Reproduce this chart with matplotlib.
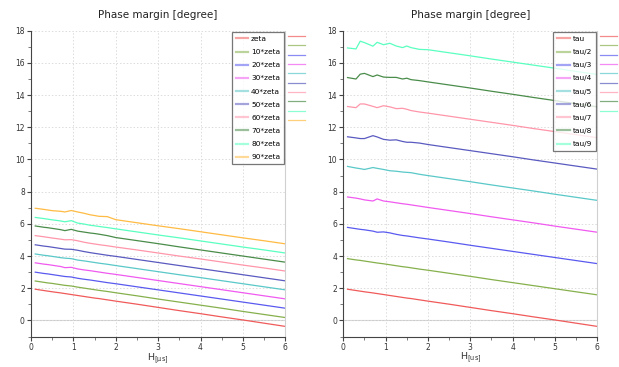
import numpy as np
import matplotlib.pyplot as plt
from matplotlib.ticker import MultipleLocator

# H in microseconds
H = [0.1, 0.3, 0.4, 0.5, 0.7, 0.8, 0.95, 1.1, 1.25, 1.4, 1.5, 1.6, 1.8, 2.0,
     2.5, 3.0, 3.5, 4.0, 4.5, 5.0, 5.5, 6.0]

# phase margin vs H, zeta sweep
zeta_labels = ['zeta', '10*zeta', '20*zeta', '30*zeta', '40*zeta', '50*zeta',
               '60*zeta', '70*zeta', '80*zeta', '90*zeta']
zeta_1 = [1.94, 1.86, 1.82, 1.78, 1.71, 1.67, 1.61, 1.55, 1.49, 1.43, 1.39, 1.36, 1.28, 1.20,
          1.01, 0.81, 0.61, 0.42, 0.22, 0.03, -0.17, -0.37]
zeta_10 = [2.45, 2.37, 2.33, 2.30, 2.22, 2.18, 2.14, 2.07, 2.01, 1.95, 1.91, 1.87, 1.80, 1.72,
           1.53, 1.33, 1.14, 0.95, 0.76, 0.56, 0.37, 0.18]
zeta_20 = [3.00, 2.92, 2.89, 2.85, 2.77, 2.73, 2.70, 2.62, 2.56, 2.51, 2.47, 2.43, 2.35, 2.28,
           2.09, 1.90, 1.71, 1.52, 1.33, 1.14, 0.95, 0.76]
zeta_30 = [3.58, 3.50, 3.47, 3.43, 3.35, 3.28, 3.30, 3.20, 3.14, 3.09, 3.05, 3.01, 2.93, 2.86,
           2.67, 2.48, 2.29, 2.10, 1.91, 1.72, 1.53, 1.34]
zeta_40 = [4.13, 4.05, 4.02, 3.98, 3.90, 3.87, 3.84, 3.75, 3.70, 3.64, 3.60, 3.56, 3.49, 3.41,
           3.22, 3.03, 2.84, 2.66, 2.47, 2.28, 2.09, 1.90]
zeta_50 = [4.70, 4.62, 4.59, 4.55, 4.47, 4.43, 4.42, 4.36, 4.28, 4.21, 4.17, 4.13, 4.05, 3.98,
           3.79, 3.60, 3.41, 3.22, 3.03, 2.84, 2.65, 2.46]
zeta_60 = [5.27, 5.20, 5.16, 5.12, 5.05, 5.01, 5.02, 4.95, 4.86, 4.79, 4.75, 4.71, 4.64, 4.56,
           4.38, 4.19, 4.00, 3.82, 3.63, 3.44, 3.26, 3.07]
zeta_70 = [5.87, 5.79, 5.76, 5.72, 5.64, 5.58, 5.66, 5.55, 5.49, 5.43, 5.40, 5.36, 5.27, 5.15,
           4.96, 4.77, 4.57, 4.38, 4.19, 4.00, 3.81, 3.62]
zeta_80 = [6.40, 6.33, 6.29, 6.25, 6.18, 6.13, 6.20, 6.05, 5.99, 5.91, 5.88, 5.84, 5.77, 5.69,
           5.50, 5.31, 5.13, 4.94, 4.75, 4.56, 4.38, 4.19]
zeta_90 = [6.97, 6.90, 6.86, 6.82, 6.78, 6.74, 6.83, 6.74, 6.66, 6.56, 6.52, 6.47, 6.45, 6.26,
           6.07, 5.88, 5.70, 5.51, 5.32, 5.13, 4.95, 4.76]

# phase margin vs H, tau sweep
tau_labels = ['tau', 'tau/2', 'tau/3', 'tau/4', 'tau/5', 'tau/6', 'tau/7', 'tau/8', 'tau/9']
tau_1 = zeta_1
tau_2 = [3.84, 3.76, 3.73, 3.69, 3.61, 3.57, 3.52, 3.46, 3.40, 3.34, 3.31, 3.27, 3.19, 3.12,
         2.93, 2.74, 2.54, 2.35, 2.16, 1.97, 1.78, 1.59]
tau_3 = [5.78, 5.70, 5.66, 5.63, 5.55, 5.48, 5.50, 5.44, 5.35, 5.28, 5.25, 5.21, 5.13, 5.06,
         4.87, 4.67, 4.48, 4.29, 4.10, 3.91, 3.72, 3.53]
tau_4 = [7.67, 7.60, 7.55, 7.49, 7.42, 7.55, 7.42, 7.37, 7.31, 7.25, 7.22, 7.18, 7.10, 7.02,
         6.83, 6.64, 6.44, 6.25, 6.06, 5.86, 5.67, 5.48]
tau_5 = [9.57, 9.47, 9.43, 9.38, 9.50, 9.45, 9.38, 9.30, 9.27, 9.22, 9.20, 9.18, 9.08, 9.00,
         8.81, 8.62, 8.42, 8.23, 8.04, 7.84, 7.65, 7.46]
tau_6 = [11.41, 11.34, 11.30, 11.30, 11.48, 11.40, 11.25, 11.20, 11.22, 11.12, 11.07, 11.07, 11.02, 10.93,
         10.74, 10.55, 10.36, 10.17, 9.97, 9.78, 9.59, 9.40]
tau_7 = [13.29, 13.22, 13.45, 13.45, 13.30, 13.22, 13.34, 13.27, 13.16, 13.18, 13.12, 13.04, 12.95, 12.88,
         12.69, 12.50, 12.31, 12.12, 11.92, 11.73, 11.54, 11.35]
tau_8 = [15.09, 15.00, 15.30, 15.35, 15.15, 15.25, 15.12, 15.10, 15.10, 15.00, 15.05, 14.96, 14.90, 14.82,
         14.63, 14.44, 14.24, 14.05, 13.85, 13.66, 13.46, 13.27]
tau_9 = [16.93, 16.87, 17.35, 17.26, 17.04, 17.28, 17.13, 17.22, 17.05, 16.95, 17.05, 16.95, 16.84, 16.82,
         16.63, 16.44, 16.24, 16.05, 15.86, 15.67, 15.47, 15.28]

colors = ['#f05a5a', '#86b04c', '#5a5af0', '#f05af0', '#5ac8c8', '#5a5ac0',
          '#ff96aa', '#4a8c4a', '#5affc0', '#ffbb44']

zeta_series = [zeta_1, zeta_10, zeta_20, zeta_30, zeta_40, zeta_50, zeta_60, zeta_70, zeta_80, zeta_90]
tau_series = [tau_1, tau_2, tau_3, tau_4, tau_5, tau_6, tau_7, tau_8, tau_9]

plt.rcParams['font.family'] = ['DejaVu Sans']

fig = plt.figure(figsize=(6.19, 3.67), dpi=100)
ax1 = fig.add_axes([0.0501, 0.083, 0.4108, 0.8333])
ax2 = fig.add_axes([0.5546, 0.083, 0.4103, 0.8333])


def style_axes(ax, series, labels, xlab):
    lines = []
    for ys, lab, c in zip(series, labels, colors):
        ln, = ax.plot(H, ys, color=c, lw=0.9, label=lab)
        lines.append(ln)
    ax.set_xlim(0, 6)
    ax.set_ylim(-1, 18)
    ax.xaxis.set_major_locator(MultipleLocator(1))
    ax.xaxis.set_minor_locator(MultipleLocator(0.5))
    ax.yaxis.set_major_locator(MultipleLocator(2))
    ax.yaxis.set_minor_locator(MultipleLocator(1))
    ax.grid(True, which='major', color='#dcdcdc', ls=(0, (1.5, 2)), lw=0.7)
    ax.axhline(0, color='#cccccc', lw=0.8, zorder=0)
    ax.spines['top'].set_visible(False)
    ax.spines['right'].set_color('#d0d0d0')
    ax.spines['left'].set_color('#444444')
    ax.spines['bottom'].set_color('#444444')
    ax.tick_params(which='major', length=3, width=0.8, color='#444444',
                   labelsize=5.5, labelcolor='#333333', pad=1.5)
    ax.tick_params(which='minor', length=2, width=0.6, color='#666666')
    ax.set_title('Phase margin [degree]', fontsize=7.5, color='#222222', pad=9)
    ax.set_xlabel(xlab, fontsize=6.8, color='#333333', labelpad=-0.5)

    leg = ax.legend(loc='upper right', fontsize=5.3, frameon=True, fancybox=False,
                    handlelength=1.75, handletextpad=0.35, labelspacing=0.95,
                    borderpad=0.55, borderaxespad=0.15)
    leg.get_frame().set_edgecolor('#555555')
    leg.get_frame().set_linewidth(0.9)
    for h in leg.get_lines():
        h.set_alpha(0.55)
        h.set_linewidth(1.6)
    ax.add_artist(leg)

    # unlabeled line column to the right of the plot
    leg2 = ax.legend(lines, [''] * len(lines), loc='upper left',
                     bbox_to_anchor=(1.0, 1.0), frameon=False, fontsize=5,
                     handlelength=2.4, handletextpad=0, labelspacing=0.48,
                     borderpad=0.3, borderaxespad=0.1)
    for h in leg2.get_lines():
        h.set_alpha(0.7)


style_axes(ax1, zeta_series, zeta_labels, r'$\mathregular{H_{[\mu s]}}$')
style_axes(ax2, tau_series, tau_labels, r'$\mathregular{H_{[us]}}$')

fig.savefig('out.png', dpi=100)
